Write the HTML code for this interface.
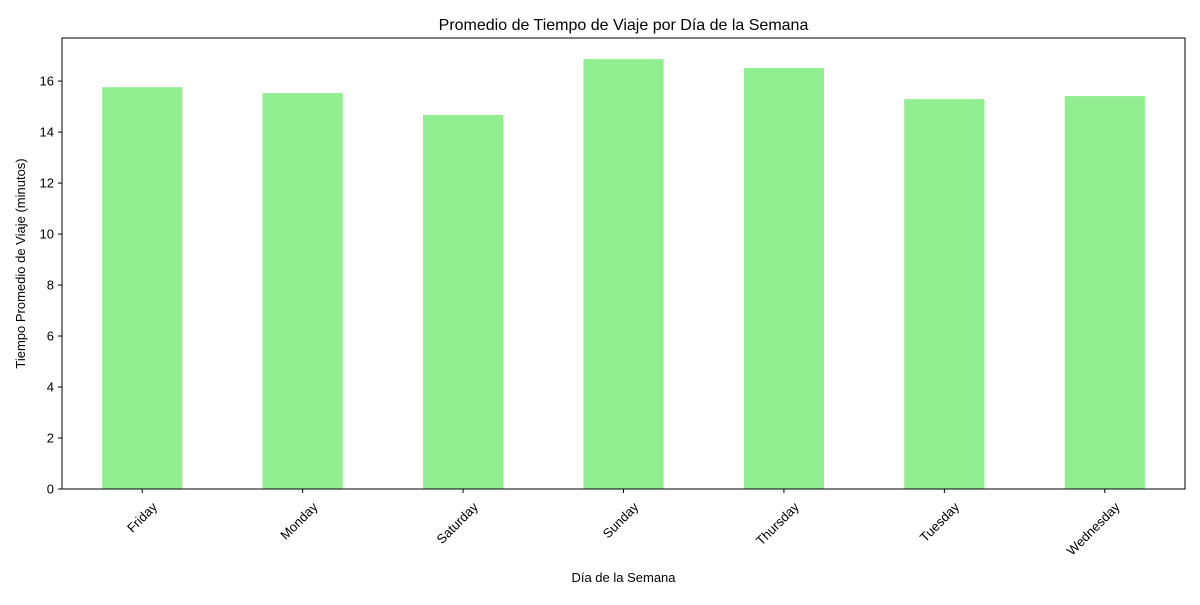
<!DOCTYPE html>
<html><head><meta charset="utf-8"><style>
body{margin:0;background:#fff;font-family:"Liberation Sans","DejaVu Sans",sans-serif;}
</style></head><body>
<svg id="chart" width="1200" height="600" xmlns="http://www.w3.org/2000/svg"></svg>
<script>
const categories=["Friday","Monday","Saturday","Sunday","Thursday","Tuesday","Wednesday"];
const values=[15.76,15.53,14.67,16.86,16.51,15.29,15.41];
const yTicks=[0,2,4,6,8,10,12,14,16];
const L=62,R=1185,T=38,B=489,yMax=17.69;
const NS="http://www.w3.org/2000/svg";
const svg=document.getElementById('chart');
const xs=i=>L+(i+0.5)*(R-L)/categories.length;
const ys=v=>B-v/yMax*(B-T);
function mk(tag,attrs,text){const e=document.createElementNS(NS,tag);for(const k in attrs)e.setAttribute(k,attrs[k]);if(text!==undefined)e.textContent=text;svg.appendChild(e);return e;}
const bw=(R-L)/categories.length*0.5;
categories.forEach((c,i)=>{
 const b=mk('rect',{x:xs(i)-bw/2,y:ys(values[i]),width:bw,height:B-ys(values[i]),fill:'#90ee90'});
 
 
 const t=mk('line',{x1:xs(i),x2:xs(i),y1:B,y2:B+4,stroke:'#000'});
 
 
 const x=xs(i)+9,y=B+12;
 const lb=mk('text',{x:x,y:y,'font-size':13,'text-anchor':'end','dominant-baseline':'hanging',transform:`rotate(-45 ${x} ${y})`},c);
 
 
});
yTicks.forEach(v=>{
 const t=mk('line',{x1:L-4,x2:L,y1:ys(v),y2:ys(v),stroke:'#000'});
 
 
 const lb=mk('text',{x:L-8,y:ys(v)+4.5,'font-size':13,'text-anchor':'end'},v);
 
 
});
const fr=mk('rect',{x:L,y:T,width:R-L,height:B-T,fill:'none',stroke:'#000','stroke-width':1});


const ti=mk('text',{x:(L+R)/2,y:30,'font-size':16,'text-anchor':'middle'},'Promedio de Tiempo de Viaje por Día de la Semana');


const xt=mk('text',{x:(L+R)/2,y:582,'font-size':13,'text-anchor':'middle'},'Día de la Semana');


const yt=mk('text',{x:25,y:(T+B)/2,'font-size':13,'text-anchor':'middle',transform:`rotate(-90 25 ${(T+B)/2})`},'Tiempo Promedio de Viaje (minutos)');


</script>
</body></html>
